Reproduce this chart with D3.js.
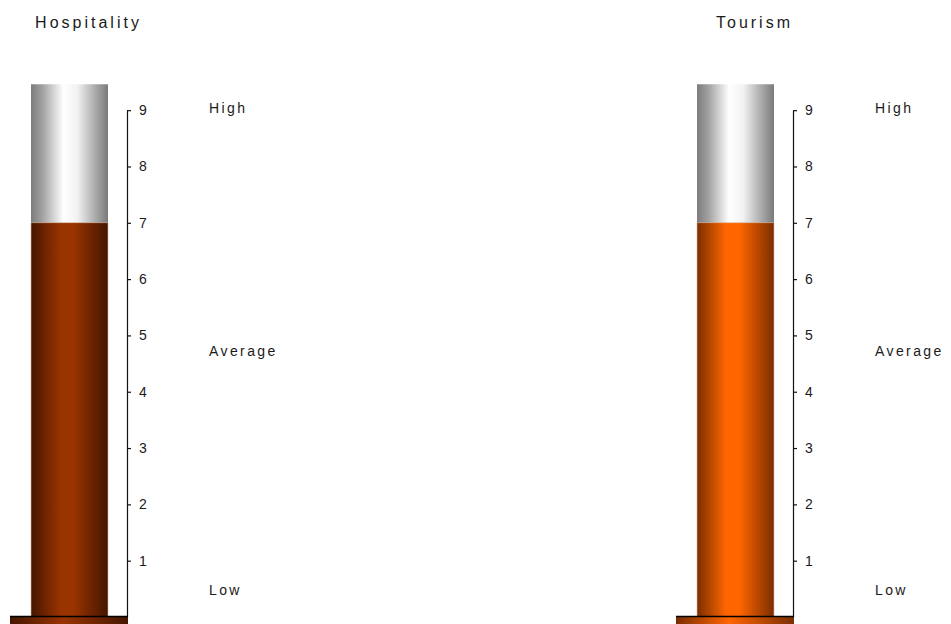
<!DOCTYPE html>
<html>
<head>
<meta charset="utf-8">
<script src="https://cdn.jsdelivr.net/npm/d3@7"></script>
<style>
  html, body { margin: 0; padding: 0; background: #fff; }
  svg { display: block; }
  text { font-family: Arial, "Liberation Sans", sans-serif; fill: #1a1a1a; }
</style>
</head>
<body>
<svg id="chart" width="951" height="624"></svg>
<script>
// ---- data ----
const categories = ["Hospitality", "Tourism"];
const values = [7, 7];
const fillColors = ["#993300", "#FF6600"];
const edgeColors = ["#451600", "#7a2e00"];
const tickValues = [1, 2, 3, 4, 5, 6, 7, 8, 9];
const bandLabels = ["High", "Average", "Low"];
const axisMax = 9;
const tubeMax = 9.46;

// ---- layout ----
const svg = d3.select("#chart");
const defs = svg.append("defs");

const panelX = d3.scaleBand().domain(categories).range([0, 1332]);
const y = d3.scaleLinear().domain([0, 9.5]).range([617, 82]);
const tubeLeft = 31, tubeWidth = 77, axisX = 127;
const baseLeft = 10, baseRight = 128;

// glass gradient
const glass = defs.append("linearGradient").attr("id", "glass")
  .attr("x1", "0").attr("x2", "1").attr("y1", "0").attr("y2", "0");
[[0, "#7c7c7c"], [0.15, "#a2a2a2"], [0.42, "#ffffff"], [0.6, "#f2f2f2"], [0.85, "#a6a6a6"], [1, "#7a7a7a"]]
  .forEach(([o, c]) => glass.append("stop").attr("offset", o).attr("stop-color", c));

categories.forEach((cat, i) => {
  const g = defs.append("linearGradient").attr("id", "fill" + i)
    .attr("x1", "0").attr("x2", "1").attr("y1", "0").attr("y2", "0");
  const c = d3.color(fillColors[i]);
  [[0, edgeColors[i]], [0.38, c.formatHex()], [0.55, c.formatHex()], [1, edgeColors[i]]]
    .forEach(([o, col]) => g.append("stop").attr("offset", o).attr("stop-color", col));
});

const panels = svg.selectAll("g.panel").data(categories).join("g")
  .attr("class", "panel")
  .attr("transform", d => `translate(${panelX(d)},0)`);

// title
panels.append("text")
  .attr("x", tubeLeft + tubeWidth / 2 + 19)
  .attr("y", 28)
  .attr("text-anchor", "middle")
  .style("font-size", "16px")
  .style("letter-spacing", "3px")
  .text(d => d);

// glass tube
panels.append("rect")
  .attr("x", tubeLeft).attr("width", tubeWidth)
  .attr("y", y(tubeMax)).attr("height", y(0) - y(tubeMax))
  .attr("fill", "url(#glass)");

// fill
panels.append("rect")
  .attr("x", tubeLeft).attr("width", tubeWidth)
  .attr("y", (d, i) => y(values[i]))
  .attr("height", (d, i) => y(0) - y(values[i]))
  .attr("fill", (d, i) => `url(#fill${i})`)
  .attr("stroke", "#d9b8a0").attr("stroke-width", 0.6);

// axis
const axisScale = d3.scaleLinear().domain([0, axisMax]).range([y(0), y(axisMax)]);
panels.append("g")
  .attr("transform", `translate(${axisX},0)`)
  .each(function () {
    d3.select(this).call(
      d3.axisRight(axisScale).tickValues(tickValues).tickSize(4).tickSizeOuter(0).tickPadding(8)
    );
  })
  .call(g => {
    g.attr("font-size", null).attr("font-family", null);
    g.select(".domain").attr("stroke", "#111").attr("stroke-width", 1.2);
    g.selectAll(".tick line").attr("stroke", "#111").attr("stroke-width", 1.2);
    g.selectAll(".tick text").style("font-size", "14px").attr("fill", "#222");
  });

// band labels (High / Average / Low)
const labelY = [y(tubeMax) + 29, (y(tubeMax) + y(0)) / 2 + 5, y(0) - 22];
panels.each(function () {
  d3.select(this).selectAll("text.band").data(bandLabels).join("text")
    .attr("class", "band")
    .attr("x", 209)
    .attr("y", (d, j) => labelY[j])
    .style("font-size", "14px")
    .style("letter-spacing", "2.4px")
    .text(d => d);
});

// base
categories.forEach((cat, i) => {
  const g = defs.append("linearGradient").attr("id", "base" + i)
    .attr("x1", "0").attr("x2", "1").attr("y1", "0").attr("y2", "0");
  [[0, edgeColors[i]], [0.45, fillColors[i]], [1, edgeColors[i]]]
    .forEach(([o, col]) => g.append("stop").attr("offset", o).attr("stop-color", col));
});
panels.append("rect")
  .attr("x", baseLeft).attr("width", baseRight - baseLeft)
  .attr("y", y(0) - 1).attr("height", 12)
  .attr("fill", (d, i) => `url(#base${i})`);
panels.append("line")
  .attr("x1", baseLeft).attr("x2", baseRight)
  .attr("y1", y(0) - 0.5).attr("y2", y(0) - 0.5)
  .attr("stroke", "#000").attr("stroke-width", 1.6);
</script>
</body>
</html>
